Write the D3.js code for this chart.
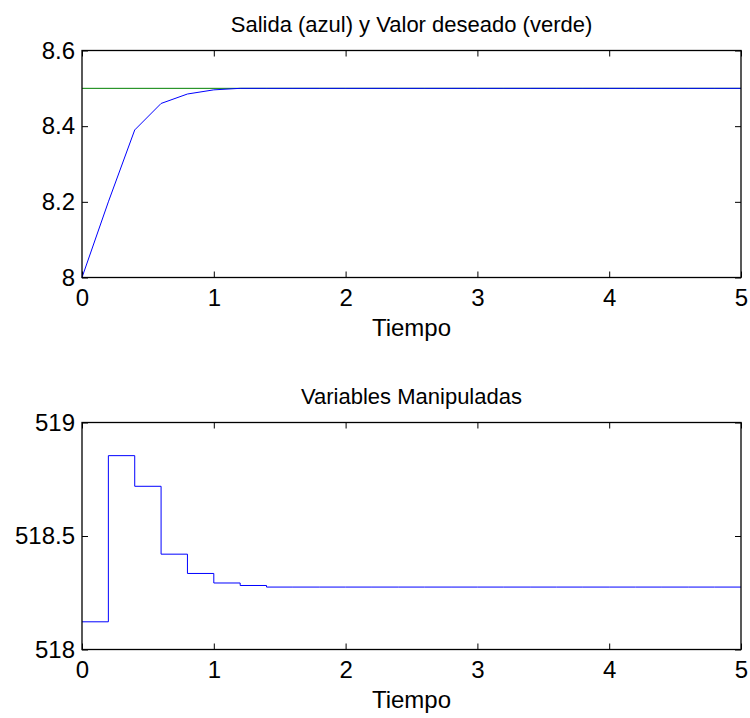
<!DOCTYPE html>
<html>
<head>
<meta charset="utf-8">
<script src="https://cdn.jsdelivr.net/npm/d3@7"></script>
<style>
  body { margin: 0; background: #fff; }
  svg text { font-family: "Liberation Sans", Arial, Helvetica, sans-serif; fill: #000; }
</style>
</head>
<body>
<div id="chart"></div>
<script>
// tiempo de muestreo (cada 0.2)
var tiempo = [0, 0.2, 0.4, 0.6, 0.8, 1.0, 1.2, 1.4, 1.6, 1.8, 2.0, 2.2, 2.4, 2.6, 2.8,
  3.0, 3.2, 3.4, 3.6, 3.8, 4.0, 4.2, 4.4, 4.6, 4.8, 5.0];

// salida (azul)
var salida = [8, 8.2, 8.39, 8.46, 8.485, 8.496, 8.5, 8.5, 8.5, 8.5, 8.5, 8.5, 8.5, 8.5, 8.5,
  8.5, 8.5, 8.5, 8.5, 8.5, 8.5, 8.5, 8.5, 8.5, 8.5, 8.5];

// valor deseado (verde)
var deseadoT = [0, 5];
var deseado = [8.5, 8.5];

// variable manipulada (escalones)
var manipulada = [518.122, 518.854, 518.719, 518.42, 518.335, 518.293, 518.282, 518.275,
  518.275, 518.275, 518.275, 518.275, 518.275, 518.275, 518.275, 518.275, 518.275,
  518.275, 518.275, 518.275, 518.275, 518.275, 518.275, 518.275, 518.275, 518.275];

var xTicks = [0, 1, 2, 3, 4, 5];
var yTicksTop = [8, 8.2, 8.4, 8.6];
var yTicksBottom = [518, 518.5, 519];

var titulos = ["Salida (azul) y Valor deseado (verde)", "Variables Manipuladas"];
var xLabel = "Tiempo";

var W = 750, H = 718;
var svg = d3.select("#chart").append("svg")
  .attr("width", W)
  .attr("height", H);

svg.append("rect").attr("width", W).attr("height", H).attr("fill", "#fff");

var left = 82, right = 741;

var x = d3.scaleLinear().domain([0, 5]).range([left, right]);

function panel(top, bottom, yDomain, yTicks, title) {
  var y = d3.scaleLinear().domain(yDomain).range([bottom, top]);
  var g = svg.append("g");

  // ticks hacia adentro en los cuatro lados
  g.append("g")
    .attr("transform", "translate(0," + bottom + ")")
    .call(d3.axisBottom(x).tickValues(xTicks).tickSize(-6).tickPadding(11)
      .tickFormat(function (d) { return String(d); }))
    .call(function (a) { a.select(".domain").remove(); });
  g.append("g")
    .attr("transform", "translate(0," + top + ")")
    .call(d3.axisTop(x).tickValues(xTicks).tickSize(-6).tickFormat(""))
    .call(function (a) { a.select(".domain").remove(); });
  g.append("g")
    .attr("transform", "translate(" + left + ",0)")
    .call(d3.axisLeft(y).tickValues(yTicks).tickSize(-6).tickPadding(7)
      .tickFormat(function (d) { return String(d); }))
    .call(function (a) { a.select(".domain").remove(); });
  g.append("g")
    .attr("transform", "translate(" + right + ",0)")
    .call(d3.axisRight(y).tickValues(yTicks).tickSize(-6).tickFormat(""))
    .call(function (a) { a.select(".domain").remove(); });

  g.selectAll(".tick text").attr("font-size", 24).attr("font-family", null);
  g.selectAll(".tick line").attr("stroke", "#000");

  svg.append("text")
    .attr("x", (left + right) / 2)
    .attr("y", top - 19)
    .attr("text-anchor", "middle")
    .attr("font-size", 22)
    .text(title);

  svg.append("text")
    .attr("x", (left + right) / 2)
    .attr("y", bottom + 58)
    .attr("text-anchor", "middle")
    .attr("font-size", 24)
    .text(xLabel);

  return { g: g, y: y, top: top, bottom: bottom };
}

// panel superior
var p1 = panel(50.5, 277.5, [8, 8.6], yTicksTop, titulos[0]);

p1.g.append("path")
  .datum(deseadoT.map(function (t, i) { return [t, deseado[i]]; }))
  .attr("fill", "none")
  .attr("stroke", "#008000")
  .attr("stroke-width", 1)
  .attr("d", d3.line().x(function (d) { return x(d[0]); }).y(function (d) { return p1.y(d[1]); }));

p1.g.append("path")
  .datum(tiempo.map(function (t, i) { return [t, salida[i]]; }))
  .attr("fill", "none")
  .attr("stroke", "#0000ff")
  .attr("stroke-width", 1)
  .attr("d", d3.line().x(function (d) { return x(d[0]); }).y(function (d) { return p1.y(d[1]); }));

p1.g.append("rect")
  .attr("x", left).attr("y", p1.top)
  .attr("width", right - left).attr("height", p1.bottom - p1.top)
  .attr("fill", "none").attr("stroke", "#000").attr("stroke-width", 1.3);

// panel inferior
var p2 = panel(422.5, 649.5, [518, 519], yTicksBottom, titulos[1]);

p2.g.append("path")
  .datum(tiempo.map(function (t, i) { return [t, manipulada[i]]; }))
  .attr("fill", "none")
  .attr("stroke", "#0000ff")
  .attr("stroke-width", 1)
  .attr("d", d3.line().curve(d3.curveStepAfter)
    .x(function (d) { return x(d[0]); }).y(function (d) { return p2.y(d[1]); }));

p2.g.append("rect")
  .attr("x", left).attr("y", p2.top)
  .attr("width", right - left).attr("height", p2.bottom - p2.top)
  .attr("fill", "none").attr("stroke", "#000").attr("stroke-width", 1.3);
</script>
</body>
</html>
